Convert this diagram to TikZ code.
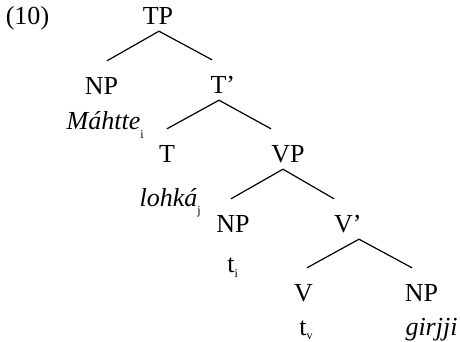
\documentclass[tikz,border=0pt]{standalone}
\usepackage{fontspec}
\setmainfont{Liberation Serif}
\usepackage{tikz}
\usetikzlibrary{positioning}
\newcommand\idx[2][-7pt]{\raisebox{#1}{\fontsize{12}{12}\selectfont\upshape #2}}
\tikzset{
  basic/.style  = {anchor=base, font=\fontsize{26}{30}\selectfont},
  cat/.style    = {basic, text height=31pt, text depth=3pt, inner xsep=0pt, inner ysep=3pt},
  word/.style   = {basic, inner sep=0pt, font=\fontsize{26}{30}\selectfont\itshape},
  trace/.style  = {basic, inner sep=0pt},
  branch/.style = {draw, line width=1.2pt, line join=miter}
}

\begin{document}
\begin{tikzpicture}[x=1pt, y=1pt]
\useasboundingbox (0,0) rectangle (460,342);

% example number
\node[trace] (num) at (27.5,317) {(10)};

% categories
\node[cat] (TP)  at (158,317)   {TP};
\node[cat] (NPa) at (101.5,247) {NP};
\node[cat] (Tb)  at (218.5,248) {T\rlap{'}};
\node[cat] (T)   at (167,179)   {T};
\node[cat] (VP)  at (288,179)   {VP};
\node[cat] (NPb) at (233,109)   {NP};
\node[cat] (Vb)  at (343.5,109) {V\rlap{'}};
\node[cat] (V)   at (303.5,40)  {V};
\node[cat] (NPc) at (421.5,40)  {NP};

% words and traces
\node[word]  (w1) at (103.5,212) {Máhtte\/\rlap{\idx[-9pt]{i}}};
\node[word]  (w2) at (168.5,135) {lohká\/\rlap{\idx[-8pt]{j}}};
\node[trace] (t1) at (231,69)    {t\rlap{\idx[-5pt]{i}}};
\node[trace] (t2) at (303,6)     {t\rlap{\idx[-4pt]{v}}};
\node[word]  (w3) at (431.5,6)   {girjji};

% branches
\draw[branch] ([xshift=5.5pt]NPa.north) -- ([xshift=1pt]TP.south) -- ([xshift=-6.5pt]Tb.north);
\draw[branch] (T.north) -- ([xshift=0.5pt]Tb.south) -- ([xshift=-17pt]VP.north);
\draw[branch] ([xshift=-2pt]NPb.north) -- ([xshift=-5pt]VP.south) -- ([xshift=-9.5pt]Vb.north);
\draw[branch] ([xshift=3.5pt]V.north) -- ([xshift=15.5pt]Vb.south) -- ([xshift=-9.5pt]NPc.north);
\end{tikzpicture}
\end{document}
